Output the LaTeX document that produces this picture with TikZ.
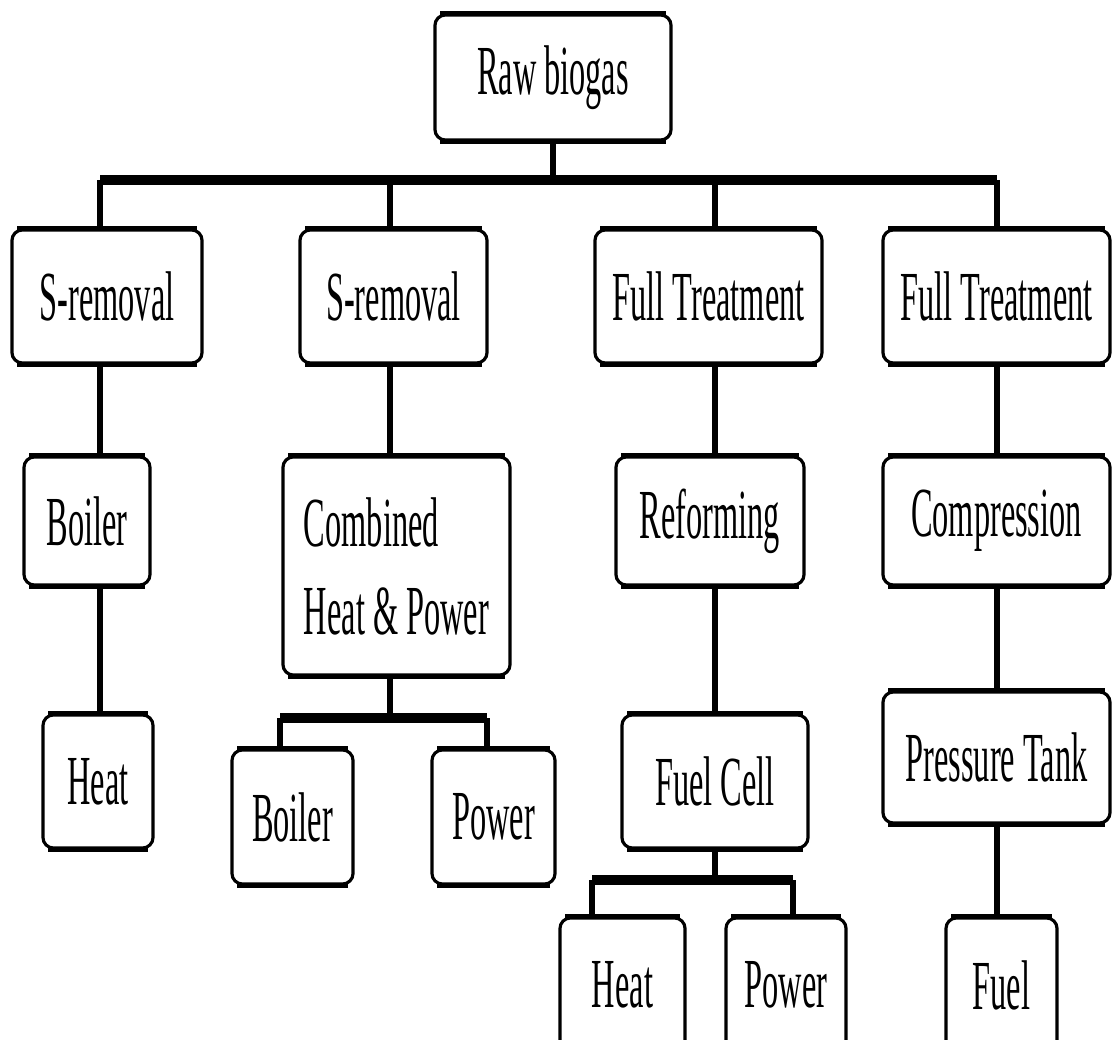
\documentclass[tikz,border=0pt]{standalone}
\usepackage{fontspec}
\setmainfont{Liberation Serif}[FakeStretch=0.46]
\usepackage{tikz}
\tikzstyle{stage} = [draw, line width=0.9pt, rounded corners=3pt, inner sep=0pt, fill=white, font=\fontsize{20}{25}\selectfont]
\tikzstyle{wire} = [line width=1.5pt]
\tikzstyle{bus} = [line width=2.6pt]
\tikzstyle{rim} = [line width=1.6pt]

\begin{document}
\begin{tikzpicture}[x=0.01cm, y=-0.01cm]
			\useasboundingbox (0,0) rectangle (1112,1040);
			\clip (0,0) rectangle (1112,1040);
			% top
			\node[stage, minimum width=2.36cm, minimum height=1.25cm] (raw) at (553,77.5) {Raw biogas};
			% treatment
			\node[stage, minimum width=1.9cm, minimum height=1.33cm] (s1) at (107,296.5) {S-removal};
			\node[stage, minimum width=1.87cm, minimum height=1.33cm] (s2) at (393.5,296.5) {S-removal};
			\node[stage, minimum width=2.27cm, minimum height=1.33cm] (t1) at (708.5,296.5) {Full Treatment};
			\node[stage, minimum width=2.27cm, minimum height=1.33cm] (t2) at (996.5,296.5) {Full Treatment};
			% conversion
			\node[stage, minimum width=1.26cm, minimum height=1.28cm] (boil) at (87,521) {Boiler};
			\node[stage, minimum width=2.27cm, minimum height=2.18cm, align=left] (chp) at (396.5,566) {Combined\\Heat \& Power};
			\node[stage, minimum width=1.88cm, minimum height=1.28cm] (ref) at (710,521) {Reforming};
			\node[stage, minimum width=2.27cm, minimum height=1.28cm] (comp) at (996.5,521) {Compression};
			\node[stage, minimum width=1.1cm, minimum height=1.33cm] (heat) at (98,781.5) {Heat};
			\node[stage, minimum width=1.86cm, minimum height=1.33cm] (cell) at (715,781.5) {Fuel Cell};
			\node[stage, minimum width=2.27cm, minimum height=1.31cm] (tank) at (996.5,757.5) {Pressure Tank};
			% products
			\node[stage, minimum width=1.21cm, minimum height=1.34cm] (boil2) at (292.5,817) {Boiler};
			\node[stage, minimum width=1.23cm, minimum height=1.34cm] (pow2) at (493.5,817) {Power};
			\node[stage, minimum width=1.25cm, minimum height=1.34cm] (heat2) at (622.5,985) {Heat};
			\node[stage, minimum width=1.2cm, minimum height=1.34cm] (pow3) at (786,985) {Power};
			\node[stage, minimum width=1.11cm, minimum height=1.34cm] (fuel) at (1001.5,985) {Fuel};
			\foreach \n in {raw,s1,s2,t1,t2,boil,chp,ref,comp,heat,cell,tank,boil2,pow2,heat2,pow3,fuel} {
				\draw[rim] ([xshift=2pt]\n.north west) -- ([xshift=-2pt]\n.north east);
				\draw[rim] ([xshift=2pt]\n.south west) -- ([xshift=-2pt]\n.south east);
			}
			\coordinate (a) at (100,180);
			\coordinate (b) at (390,180);
			\coordinate (c) at (715,180);
			\coordinate (d) at (997,180);
			\coordinate (e1) at (280,718);
			\coordinate (e2) at (487,718);
			\coordinate (f1) at (592,880);
			\coordinate (f2) at (793,880);
			\draw[bus] (a) -- (d);
			\draw[wire] (raw.south) -- (raw.south |- a);
			\draw[wire] (a) -- (a |- s1.north);
			\draw[wire] (b) -- (b |- s2.north);
			\draw[wire] (c) -- (c |- t1.north);
			\draw[wire] (d) -- (d |- t2.north);
			\draw[wire] (a |- s1.south) -- (a |- boil.north);
			\draw[wire] (a |- boil.south) -- (a |- heat.north);
			\draw[wire] (b |- s2.south) -- (b |- chp.north);
			\draw[wire] (b |- chp.south) -- (b |- e1);
			\draw[bus] (e1) -- (e2);
			\draw[wire] (e1) -- (e1 |- boil2.north);
			\draw[wire] (e2) -- (e2 |- pow2.north);
			\draw[wire] (c |- t1.south) -- (c |- ref.north);
			\draw[wire] (c |- ref.south) -- (c |- cell.north);
			\draw[wire] (c |- cell.south) -- (c |- f1);
			\draw[bus] (f1) -- (f2);
			\draw[wire] (f1) -- (f1 |- heat2.north);
			\draw[wire] (f2) -- (f2 |- pow3.north);
			\draw[wire] (d |- t2.south) -- (d |- comp.north);
			\draw[wire] (d |- comp.south) -- (d |- tank.north);
			\draw[wire] (d |- tank.south) -- (d |- fuel.north);
		\end{tikzpicture}
\end{document}
